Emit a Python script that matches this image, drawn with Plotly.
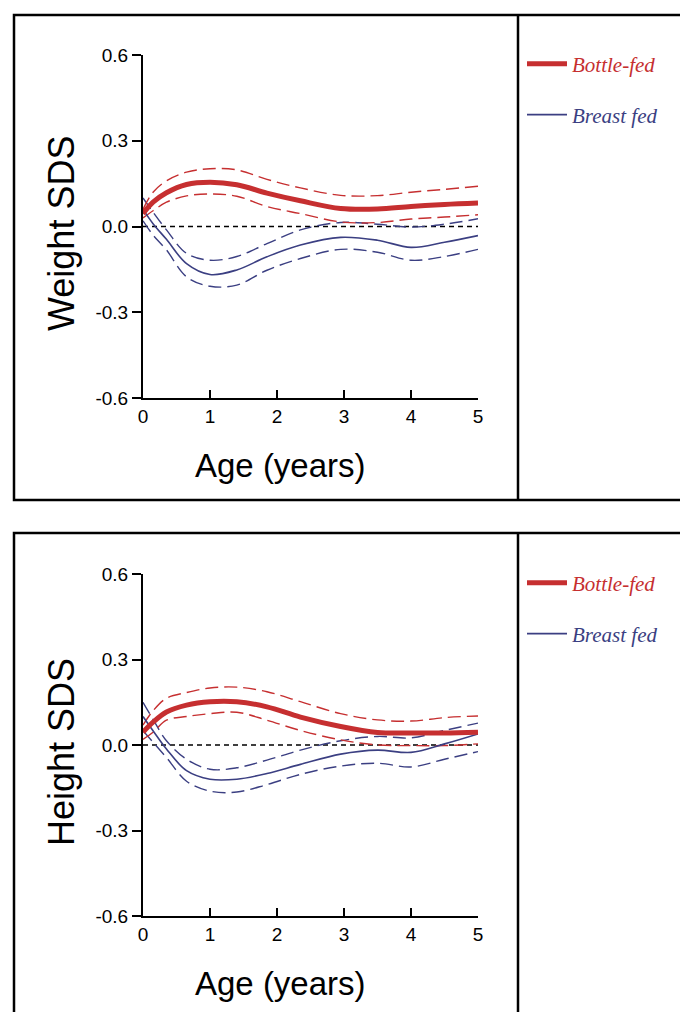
import plotly.graph_objects as go

# ---------------- data ----------------
ages = [0, 0.15, 0.35, 0.65, 1.0, 1.4, 1.85, 2.35, 2.95, 3.5, 4.0, 4.5, 5.0]

weight_bottle = [0.045, 0.085, 0.118, 0.147, 0.155, 0.146, 0.117, 0.090, 0.063, 0.061, 0.070, 0.077, 0.082]
weight_bottle_hi = [0.060, 0.120, 0.160, 0.190, 0.202, 0.198, 0.165, 0.135, 0.109, 0.108, 0.120, 0.130, 0.141]
weight_bottle_lo = [0.030, 0.055, 0.085, 0.107, 0.114, 0.106, 0.070, 0.045, 0.016, 0.014, 0.026, 0.033, 0.041]
weight_breast = [0.060, 0.010, -0.045, -0.130, -0.168, -0.152, -0.106, -0.065, -0.038, -0.048, -0.073, -0.055, -0.032]
weight_breast_hi = [0.100, 0.050, -0.012, -0.094, -0.118, -0.105, -0.060, -0.012, 0.014, 0.008, -0.002, 0.008, 0.027]
weight_breast_lo = [0.020, -0.030, -0.082, -0.176, -0.209, -0.205, -0.153, -0.112, -0.080, -0.090, -0.118, -0.105, -0.080]

height_bottle = [0.045, 0.080, 0.116, 0.140, 0.152, 0.152, 0.134, 0.098, 0.065, 0.044, 0.042, 0.042, 0.045]
height_bottle_hi = [0.070, 0.120, 0.164, 0.184, 0.200, 0.203, 0.187, 0.152, 0.110, 0.088, 0.084, 0.096, 0.102]
height_bottle_lo = [0.020, 0.045, 0.087, 0.100, 0.110, 0.115, 0.087, 0.051, 0.018, 0.000, -0.002, -0.002, 0.004]
height_breast = [0.100, 0.050, -0.014, -0.090, -0.120, -0.120, -0.100, -0.068, -0.032, -0.018, -0.026, 0.004, 0.039]
height_breast_hi = [0.150, 0.090, 0.015, -0.050, -0.085, -0.080, -0.053, -0.018, 0.015, 0.030, 0.025, 0.051, 0.077]
height_breast_lo = [0.050, 0.010, -0.044, -0.127, -0.162, -0.165, -0.139, -0.103, -0.074, -0.064, -0.077, -0.050, -0.023]

zero_x = [0, 5]
zero_y = [0, 0]

y_ticks = [-0.6, -0.3, 0.0, 0.3, 0.6]
y_ticktext = ["-0.6", "-0.3", "0.0", "0.3", "0.6"]
x_ticks = [0, 1, 2, 3, 4, 5]

series_names = ["Bottle-fed", "Breast fed"]
y_titles = ["Weight SDS", "Height SDS"]
x_title = "Age (years)"

# ---------------- styling ----------------
RED = "#c62f30"
BLUE = "#3b3f82"
W, H = 680, 1012

fig = go.Figure()

panels = [
    (weight_bottle, weight_bottle_hi, weight_bottle_lo, weight_breast, weight_breast_hi, weight_breast_lo),
    (height_bottle, height_bottle_hi, height_bottle_lo, height_breast, height_breast_hi, height_breast_lo),
]

legend_ids = [("legend", "legend2"), ("legend3", "legend4")]

for i, (bo, bo_hi, bo_lo, br, br_hi, br_lo) in enumerate(panels):
    xa = "x" if i == 0 else "x2"
    ya = "y" if i == 0 else "y2"
    # zero reference line
    fig.add_trace(go.Scatter(x=zero_x, y=zero_y, mode="lines", xaxis=xa, yaxis=ya,
                             line=dict(color="black", width=1.5, dash="5px,4px"),
                             showlegend=False, hoverinfo="skip"))
    # breast fed CI
    for arr in (br_hi, br_lo):
        fig.add_trace(go.Scatter(x=ages, y=arr, mode="lines", xaxis=xa, yaxis=ya,
                                 line=dict(color=BLUE, width=1.4, dash="13px,6px", shape="spline"),
                                 showlegend=False, hoverinfo="skip"))
    # bottle fed CI
    for arr in (bo_hi, bo_lo):
        fig.add_trace(go.Scatter(x=ages, y=arr, mode="lines", xaxis=xa, yaxis=ya,
                                 line=dict(color=RED, width=1.4, dash="13px,6px", shape="spline"),
                                 showlegend=False, hoverinfo="skip"))
    # breast fed estimate
    fig.add_trace(go.Scatter(x=ages, y=br, mode="lines", xaxis=xa, yaxis=ya,
                             name=f'<span style="color:{BLUE}"><i>{series_names[1]}</i></span>',
                             line=dict(color=BLUE, width=1.6, shape="spline"),
                             legend=legend_ids[i][1], showlegend=True))
    # bottle fed estimate
    fig.add_trace(go.Scatter(x=ages, y=bo, mode="lines", xaxis=xa, yaxis=ya,
                             name=f'<span style="color:{RED}"><i>{series_names[0]}</i></span>',
                             line=dict(color=RED, width=5, shape="spline"),
                             legend=legend_ids[i][0], showlegend=True))

x0, x1 = 143 / W, 478 / W
dom_top = [1 - 398 / H, 1 - 55 / H]
dom_bot = [1 - 916 / H, 1 - 574 / H]

tick_font = dict(family="Liberation Sans, Arial", size=19, color="black")
axis_common_x = dict(range=[0, 5], tickvals=x_ticks, showline=True, linecolor="black", linewidth=2,
                     ticks="inside", ticklen=8, tickwidth=2, tickcolor="black", showgrid=False,
                     zeroline=False, automargin=False, tickfont=tick_font, fixedrange=True)
axis_common_y = dict(range=[-0.6, 0.6], tickvals=y_ticks, ticktext=y_ticktext, showline=True,
                     linecolor="black", linewidth=2, ticks="outside", ticklen=9, tickwidth=2,
                     tickcolor="black", showgrid=False, zeroline=False, automargin=False,
                     tickfont=tick_font, fixedrange=True)

legend_font = dict(family="Liberation Serif, Times New Roman", size=21)
leg_common = dict(bgcolor="rgba(0,0,0,0)", borderwidth=0, font=legend_font, itemwidth=40,
                  xanchor="left", yanchor="middle", x=522 / W)

fig.update_layout(
    width=W, height=H,
    margin=dict(l=0, r=0, t=0, b=0, autoexpand=False),
    paper_bgcolor="white", plot_bgcolor="white",
    xaxis=dict(domain=[x0, x1], anchor="y", **axis_common_x),
    yaxis=dict(domain=dom_top, anchor="x", **axis_common_y),
    xaxis2=dict(domain=[x0, x1], anchor="y2", **axis_common_x),
    yaxis2=dict(domain=dom_bot, anchor="x2", **axis_common_y),
    legend=dict(y=1 - 64 / H, **leg_common),
    legend2=dict(y=1 - 115 / H, **leg_common),
    legend3=dict(y=1 - 583 / H, **leg_common),
    legend4=dict(y=1 - 634 / H, **leg_common),
    showlegend=True,
)

# panel frames
frame = dict(type="rect", xref="paper", yref="paper", line=dict(color="black", width=2.5),
             fillcolor="rgba(0,0,0,0)")
fig.add_shape(x0=14 / W, x1=1.05, y0=1 - 500 / H, y1=1 - 15 / H, **frame)
fig.add_shape(x0=14 / W, x1=1.05, y0=-0.05, y1=1 - 533 / H, **frame)
for (ya, yb) in [(15, 500), (533, 1012)]:
    fig.add_shape(type="line", xref="paper", yref="paper", x0=518 / W, x1=518 / W,
                  y0=1 - yb / H, y1=1 - ya / H, line=dict(color="black", width=2.5))

# axis titles
title_font_y = dict(family="Liberation Sans, Arial", size=36, color="black")
title_font_x = dict(family="Liberation Sans, Arial", size=33, color="black")
for j, (yc, xc) in enumerate([(234, 465), (752, 983)]):
    fig.add_annotation(text=y_titles[j], xref="paper", yref="paper", x=61 / W, y=1 - yc / H,
                       textangle=-90, showarrow=False, font=title_font_y,
                       xanchor="center", yanchor="middle")
    fig.add_annotation(text=x_title, xref="paper", yref="paper", x=280 / W, y=1 - xc / H,
                       showarrow=False, font=title_font_x, xanchor="center", yanchor="middle")

fig.write_html("out.html", config={"displayModeBar": False},
               post_script="document.body.style.margin='0';document.body.style.overflow='hidden';")
